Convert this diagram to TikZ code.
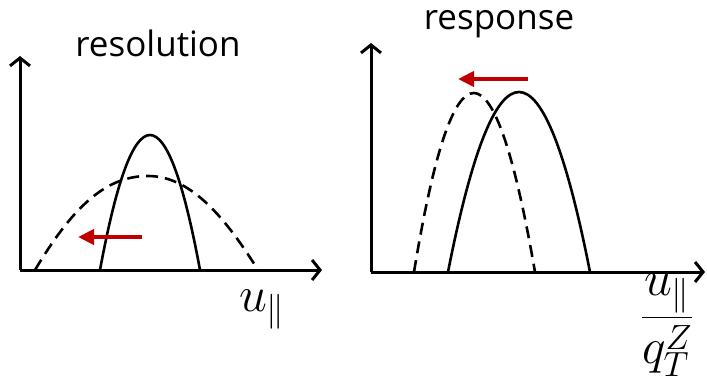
\RequirePackage{fix-cm}
\documentclass[tikz,border=0pt]{standalone}
\usepackage{fontspec}
\setsansfont{Open Sans}
\usetikzlibrary{arrows.meta}
\definecolor{arrowred}{HTML}{C00000}
\tikzset{
  axis/.style={line width=3pt, -{Straight Barb[length=8pt,width=20pt,line width=3pt]}},
  curve/.style={line width=2.6pt},
  dcurve/.style={line width=2.6pt, dash pattern=on 12pt off 7pt},
  shiftarrow/.style={line width=4pt, arrowred, -{Triangle[length=16pt,width=15pt]}},
  title/.style={font=\sffamily\fontsize{35}{40}\selectfont, inner sep=0pt},
  mlabel/.style={font=\fontsize{50}{60}\selectfont, inner sep=0pt}
}
\begin{document}
\begin{tikzpicture}[x=1pt,y=-1pt]
\useasboundingbox (0,0) rectangle (707,384);
% left panel
\coordinate (lo) at (20,270);
\coordinate (ly) at (20,56);
\coordinate (lx) at (322,270);
\draw[axis] (lo) -- (ly);
\draw[axis] (lo) -- (lx);
\draw[curve] (100,270) .. controls (133.3,90) and (166.7,90) .. (200,270);
\draw[dcurve] (35,270) .. controls (75,203) and (108,176) .. (148,176) .. controls (188,176) and (222,212) .. (258,270);
\coordinate (la) at (142,237);
\coordinate (lb) at (78,237);
\draw[shiftarrow] (la) -- (lb);
\node[title] (tres) at (158,43) {resolution};
\node[mlabel] (lu) at (262,310) {$u_{\|}$};
% right panel
\coordinate (ro) at (371,272);
\coordinate (ry) at (371,43);
\coordinate (rx) at (705,272);
\draw[axis] (ro) -- (ry);
\draw[axis] (ro) -- (rx);
\draw[curve] (448,272) .. controls (495.3,32) and (542.7,32) .. (590,272);
\draw[dcurve] (414,272) .. controls (453.3,33.3) and (493.7,33.3) .. (535,272);
\coordinate (ra) at (528,79);
\coordinate (rb) at (458,79);
\draw[shiftarrow] (ra) -- (rb);
\node[title] (tresp) at (499,24) {response};
\node[mlabel] (ru) at (667,325) {$\displaystyle\frac{u_{\|}}{q_T^Z}$};
\end{tikzpicture}
\end{document}
